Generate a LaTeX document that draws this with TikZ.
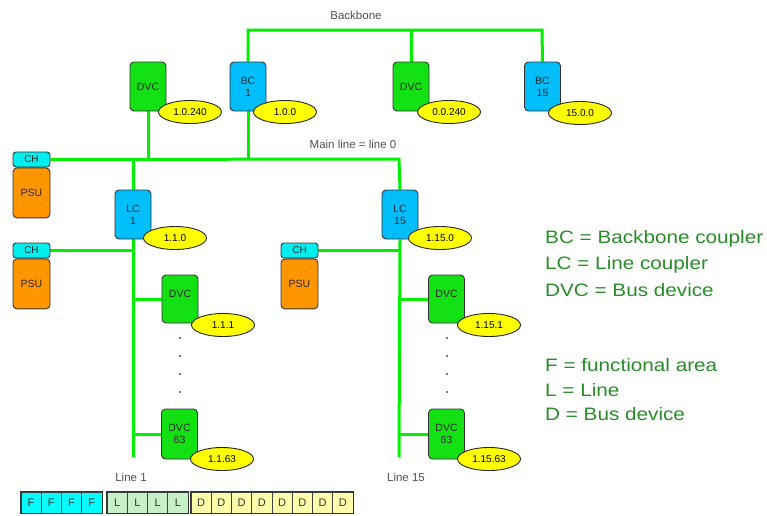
\documentclass[tikz,border=0pt]{standalone}
\usepackage{fontspec}
\usetikzlibrary{shapes.geometric,backgrounds}
\setmainfont{Liberation Sans}
\newfontfamily\legendfont[FakeStretch=1.15]{Liberation Sans}
\definecolor{busgreen}{RGB}{0,240,0}
\definecolor{devgreen}{RGB}{20,225,20}
\definecolor{coupblue}{RGB}{0,190,250}
\definecolor{chcyan}{RGB}{0,238,238}
\definecolor{psuorange}{RGB}{255,150,0}
\definecolor{addryellow}{RGB}{255,255,0}
\definecolor{legendgreen}{RGB}{40,140,40}
\definecolor{cellcyan}{RGB}{0,255,255}
\definecolor{cellgreen}{RGB}{200,240,200}
\definecolor{cellyellow}{RGB}{255,255,170}
\definecolor{labelgray}{RGB}{80,80,80}
\tikzset{
  bus/.style={draw=busgreen, line width=3pt},
  unitbox/.style={draw=black!80, line width=0.9pt, rounded corners=4pt,
    minimum width=36pt, minimum height=49pt, inner sep=0pt, align=center,
    font=\fontsize{10.5}{12}\selectfont, text=black!85},
  dvcbox/.style={unitbox, fill=devgreen},
  cplbox/.style={unitbox, fill=coupblue},
  chbox/.style={draw=black!80, line width=0.9pt, rounded corners=3pt, fill=chcyan,
    minimum width=37pt, minimum height=15pt, inner sep=0pt,
    font=\fontsize{10}{11}\selectfont, text=black!85},
  psubox/.style={draw=black!80, line width=0.9pt, rounded corners=4pt, fill=psuorange,
    minimum width=37pt, minimum height=50pt, inner sep=0pt,
    font=\fontsize{10.5}{12}\selectfont, text=black!85},
  addr/.style={ellipse, draw=black!85, line width=0.9pt, fill=addryellow,
    minimum width=63pt, minimum height=23pt, inner sep=0pt,
    font=\fontsize{10}{11}\selectfont},
  caption/.style={font=\fontsize{11.5}{13}\selectfont, text=labelgray, inner sep=0pt},
  legend/.style={font=\legendfont\fontsize{18}{25}\selectfont, text=legendgreen,
    anchor=west, inner sep=0pt},
  cell/.style={draw=black!75, line width=0.8pt, minimum width=20.25pt,
    minimum height=21pt, inner sep=0pt, font=\fontsize{11}{12}\selectfont, text=black!80},
  group/.style={draw=black!80, line width=1.6pt},
  busdot/.style={circle, fill=black!70, inner sep=0pt, minimum size=2.2pt}
}
\begin{document}
\begin{tikzpicture}[x=1pt, y=-1pt]
\useasboundingbox (0,0) rectangle (767,515);

% ---------- bus line corner points ----------
\coordinate (bbR) at (542,30);
\coordinate (mlR) at (399,159);
\coordinate (l1end) at (133,457);
\coordinate (l15end) at (399,457);

% ---------- devices on the backbone and the main line ----------
\node[dvcbox] (dvcm) at (148,86.5) {DVC};
\node[cplbox] (bc1) at (248,86.5) {BC\\1};
\node[dvcbox] (dvcb) at (411,86.5) {DVC};
\node[cplbox] (bc15) at (542.5,86.5) {BC\\15};

\node[chbox] (ch1) at (31.5,159.5) {CH};
\node[psubox, anchor=north] (psu1) at (ch1.south) {PSU};

\node[cplbox] (lc1) at (133,214.5) {LC\\1};
\node[cplbox] (lc15) at (400,214.5) {LC\\15};

% ---------- line 1 ----------
\node[chbox] (ch2) at (31.5,250.5) {CH};
\node[psubox, anchor=north] (psu2) at (ch2.south) {PSU};
\node[dvcbox, minimum height=48pt] (dvc1a) at (180,299) {DVC\\[-2pt]\phantom{1}};
\node[dvcbox, minimum height=50pt] (dvc1b) at (179.5,434) {DVC\\63};

% ---------- line 15 ----------
\node[chbox] (ch3) at (299.5,250.5) {CH};
\node[psubox, anchor=north] (psu3) at (ch3.south) {PSU};
\node[dvcbox, minimum height=48pt] (dvc15a) at (446.5,299) {DVC\\[-2pt]\phantom{1}};
\node[dvcbox, minimum height=50pt] (dvc15b) at (446.5,434) {DVC\\63};

% ---------- bus lines (behind the devices) ----------
\begin{scope}[on background layer]
\path[bus] (bc1.north) |- (bbR) -- (bc15.north);
\path[bus] (dvcb.north) -- (dvcb.north |- bbR);
\path[bus] (ch1.east) -- (mlR) -- (lc15.north);
\path[bus] (dvcm.south) -- (dvcm.south |- mlR);
\path[bus] (bc1.south) -- (bc1.south |- mlR);
\path[bus] (lc1.north) -- (lc1.north |- mlR);
\path[bus] (lc1.south) -- (l1end);
\path[bus] (ch2.east) -- (ch2.east -| l1end);
\path[bus] (dvc1a.west) -- (dvc1a.west -| l1end);
\path[bus] (dvc1b.west) -- (dvc1b.west -| l1end);
\path[bus] (lc15.south) -- (l15end);
\path[bus] (ch3.east) -- (ch3.east -| l15end);
\path[bus] (dvc15a.west) -- (dvc15a.west -| l15end);
\path[bus] (dvc15b.west) -- (dvc15b.west -| l15end);
\end{scope}

% ---------- physical addresses ----------
\node[addr] (a1) at (190,112) {1.0.240};
\node[addr] (a2) at (285,112) {1.0.0};
\node[addr] (a3) at (449,112) {0.0.240};
\node[addr] (a4) at (580,113) {15.0.0};
\node[addr] (a5) at (175,238) {1.1.0};
\node[addr] (a6) at (440,238) {1.15.0};
\node[addr] (a7) at (223,325) {1.1.1};
\node[addr] (a8) at (489,325) {1.15.1};
\node[addr] (a9) at (222,459) {1.1.63};
\node[addr] (a10) at (489,459) {1.15.63};

% ---------- dots between the bus devices ----------
\foreach \yy [count=\i] in {338,356,374,392} {
  \node[busdot] (dl\i) at (180,\yy) {};
  \node[busdot] (dr\i) at (447,\yy) {};
}

% ---------- captions ----------
\node[caption] (tbb) at (356,15) {Backbone};
\node[caption] (tml) at (353,144) {Main line = line 0};
\node[caption] (tl1) at (131,477) {Line 1};
\node[caption] (tl15) at (406,477) {Line 15};

% ---------- address format ----------
\foreach \k in {0,...,3} {
  \node[cell, fill=cellcyan] (f\k) at (31.1+20.25*\k,502.5) {F};
  \node[cell, fill=cellgreen] (l\k) at (117.1+20.25*\k,502.5) {L};
}
\foreach \k in {0,...,7} {
  \node[cell, fill=cellyellow] (d\k) at (201.1+20.25*\k,502.5) {D};
}
\draw[group] (f0.north west) rectangle (f3.south east);
\draw[group] (l0.north west) rectangle (l3.south east);
\draw[group] (d0.north west) rectangle (d7.south east);

% ---------- legend ----------
\node[legend] (g1) at (545,239) {BC = Backbone coupler};
\node[legend] (g2) at (545,265) {LC = Line coupler};
\node[legend] (g3) at (545,290) {DVC = Bus device};
\node[legend] (g4) at (545,365) {F = functional area};
\node[legend] (g5) at (545,390) {L = Line};
\node[legend] (g6) at (545,414) {D = Bus device};
\end{tikzpicture}
\end{document}
